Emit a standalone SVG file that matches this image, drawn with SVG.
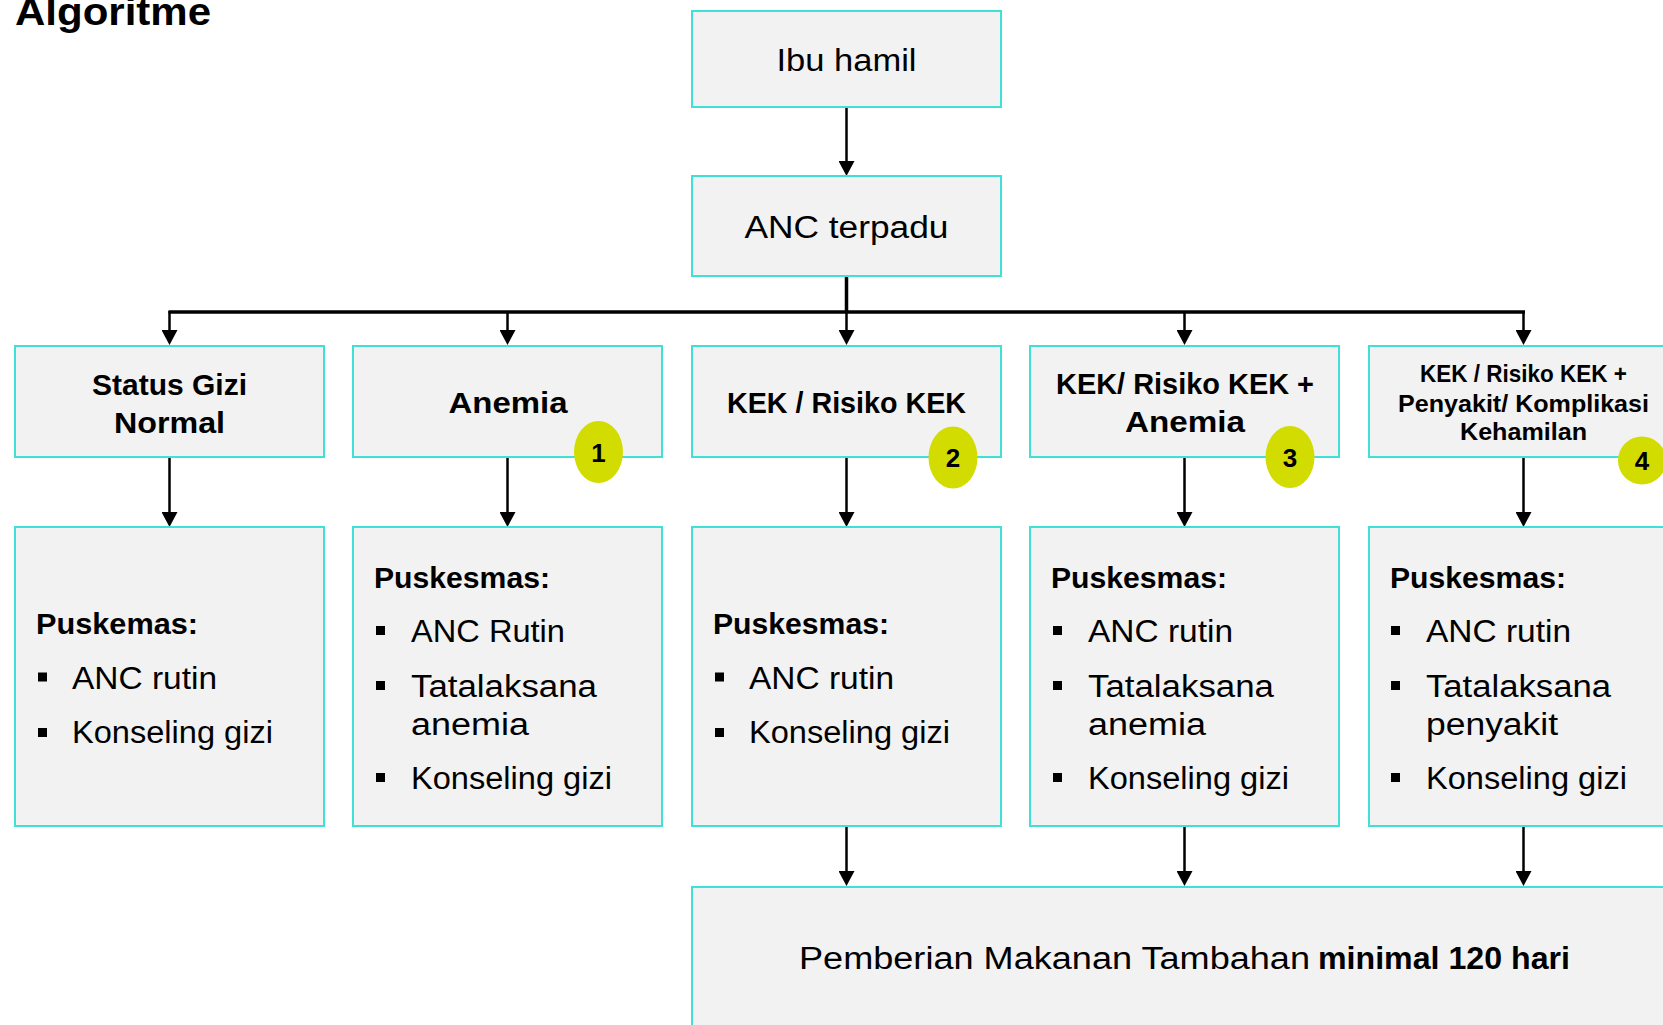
<svg xmlns="http://www.w3.org/2000/svg" width="1663" height="1025" viewBox="0 0 1663 1025">
  <style>
    .box { fill: #f2f2f2; stroke: #3fe0d6; stroke-width: 2; }
    .t { font-family: "Liberation Sans", Arial, sans-serif; fill: #000; }
    .reg { font-size: 31px; }
    .hd { font-size: 30px; font-weight: bold; }
    .hd5 { font-size: 24px; font-weight: bold; }
    .mid { text-anchor: middle; }
    .badge { fill: #d3dc00; }
    .num { font-family: "Liberation Sans", Arial, sans-serif; font-size: 26px; font-weight: bold; text-anchor: middle; fill: #000; }
    .bul { fill: #000; }
    .ln { stroke: #000; stroke-width: 2.5; fill: none; }
    .thick { stroke: #000; stroke-width: 3.5; fill: none; }
  </style>
  <defs>
    <marker id="ah" markerUnits="userSpaceOnUse" markerWidth="16" markerHeight="16" viewBox="0 0 16 16" refX="2" refY="8" orient="auto">
      <path d="M0,0 L15,8 L0,16 z" fill="#000"/>
    </marker>
  </defs>

  <text class="t" x="15" y="25" font-size="38" font-weight="bold" textLength="196" lengthAdjust="spacingAndGlyphs">Algoritme</text>

  <g id="connectors">
    <line class="ln" x1="846.5" y1="107" x2="846.5" y2="163" marker-end="url(#ah)"/>
    <line class="thick" x1="846.5" y1="276" x2="846.5" y2="313"/>
    <line class="thick" x1="168.5" y1="312" x2="1525" y2="312"/>
    <line class="ln" x1="169.5" y1="311" x2="169.5" y2="332" marker-end="url(#ah)"/>
    <line class="ln" x1="507.5" y1="311" x2="507.5" y2="332" marker-end="url(#ah)"/>
    <line class="ln" x1="846.5" y1="311" x2="846.5" y2="332" marker-end="url(#ah)"/>
    <line class="ln" x1="1184.5" y1="311" x2="1184.5" y2="332" marker-end="url(#ah)"/>
    <line class="ln" x1="1523.5" y1="311" x2="1523.5" y2="332" marker-end="url(#ah)"/>
    <line class="ln" x1="169.5" y1="457" x2="169.5" y2="514" marker-end="url(#ah)"/>
    <line class="ln" x1="507.5" y1="457" x2="507.5" y2="514" marker-end="url(#ah)"/>
    <line class="ln" x1="846.5" y1="457" x2="846.5" y2="514" marker-end="url(#ah)"/>
    <line class="ln" x1="1184.5" y1="457" x2="1184.5" y2="514" marker-end="url(#ah)"/>
    <line class="ln" x1="1523.5" y1="457" x2="1523.5" y2="514" marker-end="url(#ah)"/>
    <line class="ln" x1="846.5" y1="826" x2="846.5" y2="873" marker-end="url(#ah)"/>
    <line class="ln" x1="1184.5" y1="826" x2="1184.5" y2="873" marker-end="url(#ah)"/>
    <line class="ln" x1="1523.5" y1="826" x2="1523.5" y2="873" marker-end="url(#ah)"/>
  </g>

  <g id="ibu-hamil">
    <rect class="box" x="692" y="11" width="309" height="96"/>
    <text class="t reg mid" x="846.5" y="71" textLength="140" lengthAdjust="spacingAndGlyphs">Ibu hamil</text>
  </g>
  <g id="anc-terpadu">
    <rect class="box" x="692" y="176" width="309" height="100"/>
    <text class="t reg mid" x="846.5" y="238" textLength="204" lengthAdjust="spacingAndGlyphs">ANC terpadu</text>
  </g>

  <g id="status-gizi-normal">
    <rect class="box" x="15" y="346" width="309" height="111"/>
    <text class="t hd mid" x="169.5" y="395" textLength="155" lengthAdjust="spacingAndGlyphs">Status Gizi</text>
    <text class="t hd mid" x="169.5" y="433" textLength="111" lengthAdjust="spacingAndGlyphs">Normal</text>
  </g>
  <g id="anemia">
    <rect class="box" x="353" y="346" width="309" height="111"/>
    <text class="t hd mid" x="508" y="413" textLength="119" lengthAdjust="spacingAndGlyphs">Anemia</text>
  </g>
  <g id="kek">
    <rect class="box" x="692" y="346" width="309" height="111"/>
    <text class="t hd mid" x="846.5" y="413" textLength="239" lengthAdjust="spacingAndGlyphs">KEK / Risiko KEK</text>
  </g>
  <g id="kek-anemia">
    <rect class="box" x="1030" y="346" width="309" height="111"/>
    <text class="t hd mid" x="1185" y="394" textLength="258" lengthAdjust="spacingAndGlyphs">KEK/ Risiko KEK +</text>
    <text class="t hd mid" x="1185" y="432" textLength="120" lengthAdjust="spacingAndGlyphs">Anemia</text>
  </g>
  <g id="kek-penyakit">
    <rect class="box" x="1369" y="346" width="309" height="111"/>
    <text class="t hd5 mid" x="1523.5" y="382" textLength="207" lengthAdjust="spacingAndGlyphs">KEK / Risiko KEK +</text>
    <text class="t hd5 mid" x="1523.5" y="411.5" textLength="251" lengthAdjust="spacingAndGlyphs">Penyakit/ Komplikasi</text>
    <text class="t hd5 mid" x="1523.5" y="440" textLength="127" lengthAdjust="spacingAndGlyphs">Kehamilan</text>
  </g>

  <g id="badge-1">
    <ellipse class="badge" cx="598.5" cy="452" rx="24.5" ry="31"/>
    <text class="num" x="598.5" y="461.5">1</text>
  </g>
  <g id="badge-2">
    <ellipse class="badge" cx="953" cy="457.5" rx="24.5" ry="31"/>
    <text class="num" x="953" y="467">2</text>
  </g>
  <g id="badge-3">
    <ellipse class="badge" cx="1290" cy="457" rx="24.5" ry="31"/>
    <text class="num" x="1290" y="466.5">3</text>
  </g>
  <g id="badge-4">
    <circle class="badge" cx="1642" cy="460.5" r="24"/>
    <text class="num" x="1642" y="470">4</text>
  </g>

  <g id="puskesmas-normal">
    <rect class="box" x="15" y="527" width="309" height="299"/>
    <text class="t hd" x="36" y="634" textLength="162" lengthAdjust="spacingAndGlyphs">Puskemas:</text>
    <rect class="bul" x="38" y="672.5" width="9" height="9"/>
    <text class="t reg" x="72" y="689" textLength="145" lengthAdjust="spacingAndGlyphs">ANC rutin</text>
    <rect class="bul" x="38" y="728" width="9" height="9"/>
    <text class="t reg" x="72" y="743" textLength="201" lengthAdjust="spacingAndGlyphs">Konseling gizi</text>
  </g>
  <g id="puskesmas-anemia">
    <rect class="box" x="353" y="527" width="309" height="299"/>
    <text class="t hd" x="374" y="588" textLength="176" lengthAdjust="spacingAndGlyphs">Puskesmas:</text>
    <rect class="bul" x="376" y="626" width="9" height="9"/>
    <text class="t reg" x="411" y="642" textLength="154" lengthAdjust="spacingAndGlyphs">ANC Rutin</text>
    <rect class="bul" x="376" y="681" width="9" height="9"/>
    <text class="t reg" x="411" y="697" textLength="186" lengthAdjust="spacingAndGlyphs">Tatalaksana</text>
    <text class="t reg" x="411" y="735" textLength="118" lengthAdjust="spacingAndGlyphs">anemia</text>
    <rect class="bul" x="376" y="773" width="9" height="9"/>
    <text class="t reg" x="411" y="789" textLength="201" lengthAdjust="spacingAndGlyphs">Konseling gizi</text>
  </g>
  <g id="puskesmas-kek">
    <rect class="box" x="692" y="527" width="309" height="299"/>
    <text class="t hd" x="713" y="634" textLength="176" lengthAdjust="spacingAndGlyphs">Puskesmas:</text>
    <rect class="bul" x="715" y="672.5" width="9" height="9"/>
    <text class="t reg" x="749" y="689" textLength="145" lengthAdjust="spacingAndGlyphs">ANC rutin</text>
    <rect class="bul" x="715" y="728" width="9" height="9"/>
    <text class="t reg" x="749" y="743" textLength="201" lengthAdjust="spacingAndGlyphs">Konseling gizi</text>
  </g>
  <g id="puskesmas-kek-anemia">
    <rect class="box" x="1030" y="527" width="309" height="299"/>
    <text class="t hd" x="1051" y="588" textLength="176" lengthAdjust="spacingAndGlyphs">Puskesmas:</text>
    <rect class="bul" x="1053" y="626" width="9" height="9"/>
    <text class="t reg" x="1088" y="642" textLength="145" lengthAdjust="spacingAndGlyphs">ANC rutin</text>
    <rect class="bul" x="1053" y="681" width="9" height="9"/>
    <text class="t reg" x="1088" y="697" textLength="186" lengthAdjust="spacingAndGlyphs">Tatalaksana</text>
    <text class="t reg" x="1088" y="735" textLength="118" lengthAdjust="spacingAndGlyphs">anemia</text>
    <rect class="bul" x="1053" y="773" width="9" height="9"/>
    <text class="t reg" x="1088" y="789" textLength="201" lengthAdjust="spacingAndGlyphs">Konseling gizi</text>
  </g>
  <g id="puskesmas-kek-penyakit">
    <rect class="box" x="1369" y="527" width="309" height="299"/>
    <text class="t hd" x="1390" y="588" textLength="176" lengthAdjust="spacingAndGlyphs">Puskesmas:</text>
    <rect class="bul" x="1391" y="626" width="9" height="9"/>
    <text class="t reg" x="1426" y="642" textLength="145" lengthAdjust="spacingAndGlyphs">ANC rutin</text>
    <rect class="bul" x="1391" y="681" width="9" height="9"/>
    <text class="t reg" x="1426" y="697" textLength="185" lengthAdjust="spacingAndGlyphs">Tatalaksana</text>
    <text class="t reg" x="1426" y="735" textLength="132" lengthAdjust="spacingAndGlyphs">penyakit</text>
    <rect class="bul" x="1391" y="773" width="9" height="9"/>
    <text class="t reg" x="1426" y="789" textLength="201" lengthAdjust="spacingAndGlyphs">Konseling gizi</text>
  </g>

  <g id="pmt">
    <rect class="box" x="692" y="887" width="1000" height="200"/>
    <text class="t reg" x="799" y="969" textLength="511" lengthAdjust="spacingAndGlyphs">Pemberian Makanan Tambahan</text>
    <text class="t reg" x="1318" y="969" font-weight="bold" textLength="252" lengthAdjust="spacingAndGlyphs">minimal 120 hari</text>
  </g>
</svg>
